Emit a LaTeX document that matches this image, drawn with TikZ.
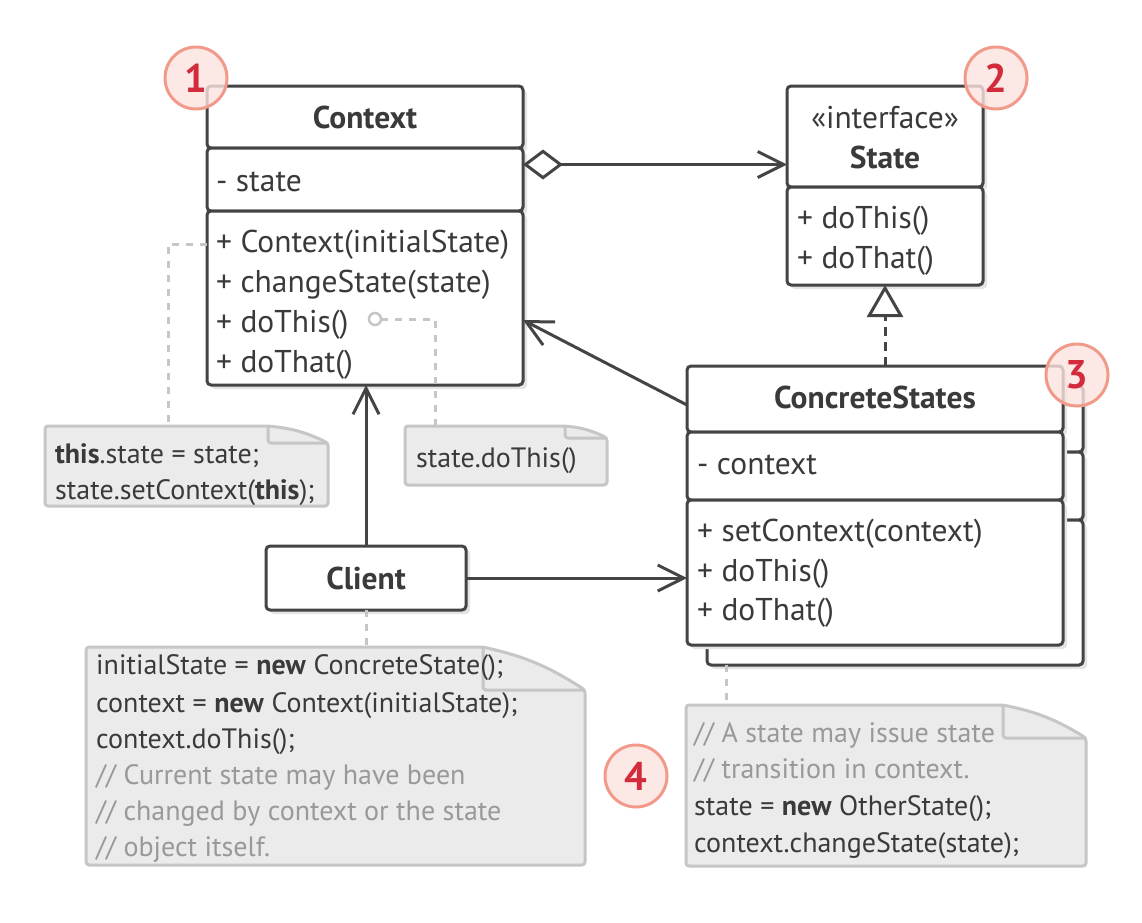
\documentclass[tikz,border=0pt]{standalone}
\usepackage{fontspec}
\setmainfont{PT Sans}
\usetikzlibrary{arrows.meta,calc}
\definecolor{ink}{HTML}{444444}
\definecolor{txt}{HTML}{3A3A3A}
\definecolor{notefill}{HTML}{EBEBEB}
\definecolor{noteline}{HTML}{C6C6C6}
\definecolor{cmt}{HTML}{999999}
\definecolor{badgefill}{HTML}{FCE4DF}
\definecolor{badgeline}{HTML}{F29A8A}
\definecolor{badgetxt}{HTML}{D22B3C}
\definecolor{shadowc}{HTML}{E4E4E4}
\newcommand\mynote[3]{%
  \draw[notestyle] (#1.north west) -- ($(#1.north east)+(-#2,0)$) to[bend left=10] ($(#1.north east)+(0,#3)$) -- (#1.south east) -- (#1.south west) -- cycle;
  \draw[notestyle,fill=none] ($(#1.north east)+(-#2,0)$) -- ($(#1.north east)+(-#2,#3)$) -- ($(#1.north east)+(0,#3)$);
}
\begin{document}
\begin{tikzpicture}[x=1pt,y=-1pt,
  every node/.style={font=\fontsize{31.5pt}{36pt}\selectfont, text=txt},
  comp/.style={draw=ink, line width=3pt, rounded corners=4pt, fill=white, inner sep=0pt, outer sep=0pt, anchor=north west,
    preaction={draw=none, fill=shadowc, transform canvas={xshift=4pt,yshift=-4pt}}},
  lbl/.style={anchor=base west, inner sep=0pt},
  ttl/.style={anchor=base, inner sep=0pt, font=\fontsize{31.5pt}{36pt}\selectfont\bfseries},
  notebox/.style={inner sep=0pt, outer sep=0pt, anchor=north west},
  notestyle/.style={draw=noteline, fill=notefill, line width=3pt, rounded corners=3pt, line join=round},
  ctxt/.style={anchor=base west, inner sep=0pt, font=\fontsize{28pt}{32pt}\selectfont},
  cmtt/.style={anchor=base west, inner sep=0pt, text=cmt, font=\fontsize{28pt}{32pt}\selectfont},
  assoc/.style={draw=ink, line width=3pt, -{Straight Barb[length=26pt,width=26pt,line width=3pt]}},
  agg/.style={draw=ink, line width=3pt, {Diamond[open,length=40pt,width=30pt,line width=3pt]}-{Straight Barb[length=26pt,width=26pt,line width=3pt]}},
  real/.style={draw=ink, line width=3pt, dash pattern=on 9pt off 6pt, -{Triangle[open,length=32pt,width=36pt,line width=3pt]}},
  dashc/.style={draw=noteline, line width=3pt, dash pattern=on 7pt off 7pt},
  dotc/.style={circle, draw=noteline, line width=2.5pt, fill=white, minimum size=12pt, inner sep=0pt, outer sep=0pt},
  badge/.style={circle, minimum size=62pt, inner sep=0pt, draw=badgeline, line width=3pt, fill=badgefill, fill opacity=0.8, text opacity=1, text=badgetxt, font=\fontsize{40pt}{40pt}\selectfont\bfseries}
]
\fill[white] (0,0) rectangle (1142,922);
\useasboundingbox (0,0) rectangle (1142,922);

% Context
\node[comp, minimum width=316pt, minimum height=62pt] (ctxh) at (207,86) {};
\node[comp, minimum width=316pt, minimum height=63pt] (ctxf) at (207,148) {};
\node[comp, minimum width=316pt, minimum height=174pt] (ctxm) at (207,211) {};
\node[ttl] (ctxtitle) at (365,128) {Context};
\node[lbl] (ctxa) at (216,191) {- state};
\node[lbl] (m1) at (216,252) {+ Context(initialState)};
\node[lbl] (m2) at (216,292) {+ changeState(state)};
\node[lbl] (m3) at (216,332) {+ doThis()};
\node[lbl] (m4) at (216,372) {+ doThat()};

% State
\node[comp, minimum width=196pt, minimum height=101pt] (stateh) at (787,86) {};
\node[comp, minimum width=196pt, minimum height=98pt] (stateb) at (787,187) {};
\node[anchor=base, inner sep=0pt] (stster) at (885,128) {«interface»};
\node[ttl] (sttitle) at (885,168) {State};
\node[lbl] (s1) at (797,228) {+ doThis()};
\node[lbl] (s2) at (797,268) {+ doThat()};

% ConcreteStates (back)
\node[comp, minimum width=376pt, minimum height=66pt] (csbh) at (707,386) {};
\node[comp, minimum width=376pt, minimum height=68pt] (csbf) at (707,452) {};
\node[comp, minimum width=376pt, minimum height=145pt] (csbm) at (707,520) {};
% ConcreteStates (front)
\node[comp, minimum width=376pt, minimum height=66pt] (csh) at (687,366) {};
\node[comp, minimum width=376pt, minimum height=68pt] (csf) at (687,432) {};
\node[comp, minimum width=376pt, minimum height=145pt] (csm) at (687,500) {};
\node[ttl] (cstitle) at (875,408) {ConcreteStates};
\node[lbl] (csa) at (697,474) {- context};
\node[lbl] (c1) at (697,541) {+ setContext(context)};
\node[lbl] (c2) at (697,581) {+ doThis()};
\node[lbl] (c3) at (697,620) {+ doThat()};

% Client
\node[comp, minimum width=200pt, minimum height=64pt] (client) at (266,546) {};
\node[ttl] (clienttitle) at (366,589) {Client};

% connectors
\draw[assoc] (client.north) -- (client.north |- ctxm.south);
\draw[assoc] (client.east) -- (client.east -| csm.west);
\coordinate (csA) at ($(csh.west)+(0,6)$);
\coordinate (ctxB) at ($(ctxm.east)+(0,22)$);
\draw[assoc] (csA) -- (ctxB);
\coordinate (aggS) at ($(ctxf.east)+(0,-15)$);
\draw[agg] (aggS) -- (aggS -| stateh.west);
\draw[real] (stateb.south |- csh.north) -- (stateb.south);

% notes
\node[notebox, minimum width=283pt, minimum height=80pt] (n1) at (45,426) {};
\node[notebox, minimum width=202pt, minimum height=59pt] (n2) at (405,426) {};
\node[notebox, minimum width=499pt, minimum height=218pt] (n3) at (86,647) {};
\node[notebox, minimum width=400pt, minimum height=161pt] (n4) at (686,705) {};

\coordinate (k1) at ($(n1.north west)+(123,0)$);
\draw[dashc] (ctxm.west |- m1.west) -| (k1);
\node[dotc] (dot) at (375,319) {};
\coordinate (k2) at ($(n2.north west)+(30,0)$);
\draw[dashc] (dot.east) -| (k2);
\draw[dashc] (client.south) -- (client.south |- n3.north);
\coordinate (k4) at ($(csbm.south west)+(19,0)$);
\draw[dashc] (k4) -- (k4 |- n4.north);

\mynote{n1}{60}{17}
\mynote{n2}{42}{12}
\mynote{n3}{102}{43}
\mynote{n4}{83}{33}

\node[ctxt] (t11) at (55,463) {\textbf{this}.state = state;};
\node[ctxt] (t12) at (55,499) {state.setContext(\textbf{this});};
\node[ctxt] (t21) at (416,467) {state.doThis()};
\node[ctxt] (t31) at (96,674) {initialState = \textbf{new} ConcreteState();};
\node[ctxt] (t32) at (96,712) {context = \textbf{new} Context(initialState);};
\node[ctxt] (t33) at (96,748) {context.doThis();};
\node[cmtt] (t34) at (96,784) {// Current state may have been};
\node[cmtt] (t35) at (96,820) {// changed by context or the state};
\node[cmtt] (t36) at (96,856) {// object itself.};
\node[cmtt] (t41) at (694,742) {// A state may issue state};
\node[cmtt] (t42) at (694,778) {// transition in context.};
\node[ctxt] (t43) at (694,815) {state = \textbf{new} OtherState();};
\node[ctxt] (t44) at (694,852) {context.changeState(state);};

% badges
\node[badge] (b1) at (196,78) {1};
\node[badge] (b2) at (996,78) {2};
\node[badge] (b3) at (1077,375) {3};
\node[badge] (b4) at (636,776) {4};
\end{tikzpicture}
\end{document}
